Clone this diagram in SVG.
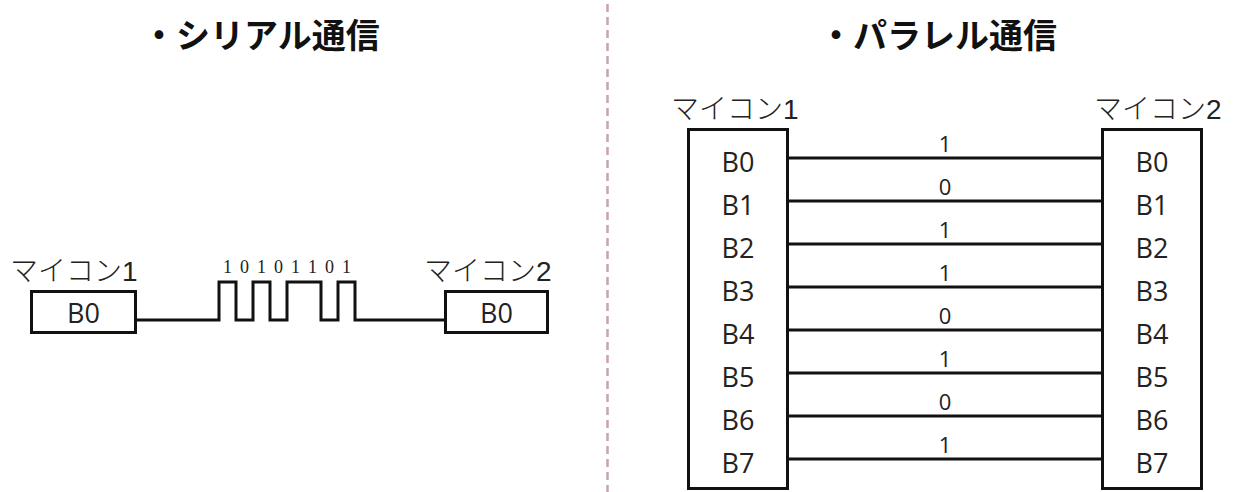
<svg xmlns="http://www.w3.org/2000/svg" width="1234" height="492" viewBox="0 0 1234 492">
<style>
.title{font-family:"Noto Sans CJK JP",sans-serif;font-weight:700;font-size:34px;fill:#111}
.mc{font-family:"Noto Sans CJK JP",sans-serif;font-weight:300;font-size:28px;fill:#222}
.mc1{font-family:"Liberation Sans",sans-serif;font-weight:400}
.reg{font-family:"Open Sans","Liberation Sans",sans-serif;font-size:27px;fill:#222;text-anchor:middle}
.bit{font-family:"Open Sans","Liberation Sans",sans-serif;font-size:22px;fill:#222;text-anchor:middle}
.sbit{font-family:"Liberation Serif",serif;font-size:18px;fill:#222;text-anchor:middle}
.box{fill:#fff;stroke:#111;stroke-width:3}
.wire{fill:none;stroke:#111;stroke-width:3}
</style>
<rect width="1234" height="492" fill="#fff"/>
<line x1="607.5" y1="4" x2="607.5" y2="492" stroke="#c9a3b5" stroke-width="2.5" stroke-dasharray="8 5"/>
<g id="titles">
<text class="title" x="142" y="48">・シリアル通信</text>
<text class="title" x="819" y="48">・パラレル通信</text>
</g>
<g id="connectors">
<polyline class="wire" points="136,320 219,320 219,282 236,282 236,320 253,320 253,282 270,282 270,320 287,320 287,282 321,282 321,320 338,320 338,282 355,282 355,320 445,320"/>
<line class="wire" x1="788" y1="158" x2="1102" y2="158"/>
<line class="wire" x1="788" y1="201" x2="1102" y2="201"/>
<line class="wire" x1="788" y1="244" x2="1102" y2="244"/>
<line class="wire" x1="788" y1="287" x2="1102" y2="287"/>
<line class="wire" x1="788" y1="330" x2="1102" y2="330"/>
<line class="wire" x1="788" y1="373" x2="1102" y2="373"/>
<line class="wire" x1="788" y1="416" x2="1102" y2="416"/>
<line class="wire" x1="788" y1="459" x2="1102" y2="459"/>
</g>
<g id="serial-bits">
<text class="sbit" x="227.5" y="273">1</text>
<text class="sbit" x="244.5" y="273">0</text>
<text class="sbit" x="261.5" y="273">1</text>
<text class="sbit" x="278.5" y="273">0</text>
<text class="sbit" x="295.5" y="273">1</text>
<text class="sbit" x="312.5" y="273">1</text>
<text class="sbit" x="329.5" y="273">0</text>
<text class="sbit" x="346.5" y="273">1</text>
</g>
<g id="parallel-bits">
<text class="bit" x="945" y="152">1</text>
<text class="bit" x="945" y="195">0</text>
<text class="bit" x="945" y="238">1</text>
<text class="bit" x="945" y="281">1</text>
<text class="bit" x="945" y="324">0</text>
<text class="bit" x="945" y="367">1</text>
<text class="bit" x="945" y="410">0</text>
<text class="bit" x="945" y="453">1</text>
</g>
<g id="serial-mcu1">
<text class="mc" x="10" y="281">マイコン<tspan class="mc1">1</tspan></text>
<rect class="box" x="31.5" y="291.5" width="104" height="41"/>
<text class="reg" x="83.5" y="323">B0</text>
</g>
<g id="serial-mcu2">
<text class="mc" x="424" y="281">マイコン<tspan class="mc1">2</tspan></text>
<rect class="box" x="445.5" y="291.5" width="102" height="41"/>
<text class="reg" x="496.5" y="323">B0</text>
</g>
<g id="parallel-mcu1">
<text class="mc" x="671" y="119">マイコン<tspan class="mc1">1</tspan></text>
<rect class="box" x="688.5" y="129.5" width="99" height="359"/>
<text class="reg" x="738" y="172">B0</text>
<text class="reg" x="738" y="215">B1</text>
<text class="reg" x="738" y="258">B2</text>
<text class="reg" x="738" y="301">B3</text>
<text class="reg" x="738" y="344">B4</text>
<text class="reg" x="738" y="387">B5</text>
<text class="reg" x="738" y="430">B6</text>
<text class="reg" x="738" y="473">B7</text>
</g>
<g id="parallel-mcu2">
<text class="mc" x="1094" y="119">マイコン<tspan class="mc1">2</tspan></text>
<rect class="box" x="1102.5" y="129.5" width="99" height="359"/>
<text class="reg" x="1152" y="172">B0</text>
<text class="reg" x="1152" y="215">B1</text>
<text class="reg" x="1152" y="258">B2</text>
<text class="reg" x="1152" y="301">B3</text>
<text class="reg" x="1152" y="344">B4</text>
<text class="reg" x="1152" y="387">B5</text>
<text class="reg" x="1152" y="430">B6</text>
<text class="reg" x="1152" y="473">B7</text>
</g>
</svg>
